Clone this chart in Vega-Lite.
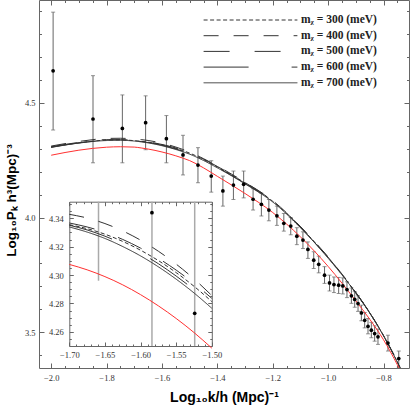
{
  "$schema": "https://vega.github.io/schema/vega-lite/v6.json",
  "width": 370,
  "height": 368,
  "autosize": {"type": "none"},
  "padding": {"left": 39, "top": 0, "right": 1, "bottom": 41},
  "background": "white",
  "config": {
    "view": {"stroke": null},
    "axis": {"grid": false, "labelFont": "Liberation Serif", "labelFontSize": 8.5, "labelColor": "#333", "domainColor": "#666", "tickColor": "#666", "labelFlush": false, "labelOverlap": false}
  },
  "datasets": {
    "obs": [
      {"x": -1.993, "y": 4.640, "lo": 4.382, "hi": 4.896},
      {"x": -1.849, "y": 4.430, "lo": 4.239, "hi": 4.619},
      {"x": -1.743, "y": 4.389, "lo": 4.239, "hi": 4.535},
      {"x": -1.659, "y": 4.414, "lo": 4.296, "hi": 4.531},
      {"x": -1.584, "y": 4.344, "lo": 4.239, "hi": 4.445},
      {"x": -1.524, "y": 4.273, "lo": 4.186, "hi": 4.359},
      {"x": -1.470, "y": 4.229, "lo": 4.152, "hi": 4.305},
      {"x": -1.422, "y": 4.181, "lo": 4.111, "hi": 4.248},
      {"x": -1.380, "y": 4.116, "lo": 4.050, "hi": 4.181},
      {"x": -1.342, "y": 4.142, "lo": 4.079, "hi": 4.203},
      {"x": -1.305, "y": 4.145, "lo": 4.086, "hi": 4.203},
      {"x": -1.271, "y": 4.080, "lo": 4.033, "hi": 4.126},
      {"x": -1.241, "y": 4.058, "lo": 4.007, "hi": 4.106},
      {"x": -1.214, "y": 4.033, "lo": 3.986, "hi": 4.079},
      {"x": -1.185, "y": 4.008, "lo": 3.966, "hi": 4.050},
      {"x": -1.160, "y": 3.975, "lo": 3.941, "hi": 4.018},
      {"x": -1.135, "y": 3.963, "lo": 3.925, "hi": 4.000},
      {"x": -1.113, "y": 3.919, "lo": 3.882, "hi": 3.956},
      {"x": -1.091, "y": 3.902, "lo": 3.865, "hi": 3.938},
      {"x": -1.073, "y": 3.861, "lo": 3.822, "hi": 3.894},
      {"x": -1.052, "y": 3.814, "lo": 3.778, "hi": 3.851},
      {"x": -1.034, "y": 3.796, "lo": 3.759, "hi": 3.832},
      {"x": -1.013, "y": 3.749, "lo": 3.713, "hi": 3.786},
      {"x": -0.995, "y": 3.715, "lo": 3.680, "hi": 3.749},
      {"x": -0.979, "y": 3.708, "lo": 3.673, "hi": 3.741},
      {"x": -0.962, "y": 3.705, "lo": 3.669, "hi": 3.739},
      {"x": -0.947, "y": 3.702, "lo": 3.667, "hi": 3.737},
      {"x": -0.932, "y": 3.686, "lo": 3.651, "hi": 3.720},
      {"x": -0.916, "y": 3.659, "lo": 3.626, "hi": 3.693},
      {"x": -0.904, "y": 3.643, "lo": 3.609, "hi": 3.677},
      {"x": -0.892, "y": 3.625, "lo": 3.591, "hi": 3.659},
      {"x": -0.880, "y": 3.584, "lo": 3.550, "hi": 3.618},
      {"x": -0.868, "y": 3.552, "lo": 3.519, "hi": 3.586},
      {"x": -0.856, "y": 3.526, "lo": 3.493, "hi": 3.560},
      {"x": -0.844, "y": 3.509, "lo": 3.476, "hi": 3.543},
      {"x": -0.832, "y": 3.494, "lo": 3.461, "hi": 3.528},
      {"x": -0.820, "y": 3.480, "lo": 3.447, "hi": 3.514},
      {"x": -0.784, "y": 3.453, "lo": 3.418, "hi": 3.487},
      {"x": -0.745, "y": 3.385, "lo": 3.348, "hi": 3.418}
    ],
    "models": [
      {"m": "300", "x": -2.0, "y": 4.308}, {"m": "300", "x": -1.9, "y": 4.326}, {"m": "300", "x": -1.8, "y": 4.338}, {"m": "300", "x": -1.75, "y": 4.339},
      {"m": "300", "x": -1.7, "y": 4.3355}, {"m": "300", "x": -1.675, "y": 4.3327}, {"m": "300", "x": -1.65, "y": 4.3288}, {"m": "300", "x": -1.625, "y": 4.3237}, {"m": "300", "x": -1.6, "y": 4.3175}, {"m": "300", "x": -1.575, "y": 4.3102}, {"m": "300", "x": -1.55, "y": 4.3017}, {"m": "300", "x": -1.525, "y": 4.2921}, {"m": "300", "x": -1.5, "y": 4.2813},
      {"m": "300", "x": -1.45, "y": 4.253}, {"m": "300", "x": -1.4, "y": 4.221}, {"m": "300", "x": -1.3, "y": 4.151}, {"m": "300", "x": -1.2, "y": 4.071}, {"m": "300", "x": -1.1, "y": 3.959}, {"m": "300", "x": -1.0, "y": 3.825}, {"m": "300", "x": -0.9, "y": 3.672}, {"m": "300", "x": -0.85, "y": 3.585}, {"m": "300", "x": -0.8, "y": 3.485}, {"m": "300", "x": -0.75, "y": 3.370}, {"m": "300", "x": -0.7, "y": 3.240},

      {"m": "400", "x": -2.0, "y": 4.312}, {"m": "400", "x": -1.9, "y": 4.332}, {"m": "400", "x": -1.8, "y": 4.345}, {"m": "400", "x": -1.75, "y": 4.346},
      {"m": "400", "x": -1.7, "y": 4.3428}, {"m": "400", "x": -1.675, "y": 4.3402}, {"m": "400", "x": -1.65, "y": 4.3363}, {"m": "400", "x": -1.625, "y": 4.3311}, {"m": "400", "x": -1.6, "y": 4.3246}, {"m": "400", "x": -1.575, "y": 4.3168}, {"m": "400", "x": -1.55, "y": 4.3077}, {"m": "400", "x": -1.525, "y": 4.2973}, {"m": "400", "x": -1.5, "y": 4.2856},
      {"m": "400", "x": -1.45, "y": 4.257}, {"m": "400", "x": -1.4, "y": 4.225}, {"m": "400", "x": -1.3, "y": 4.154}, {"m": "400", "x": -1.2, "y": 4.074}, {"m": "400", "x": -1.1, "y": 3.961}, {"m": "400", "x": -1.0, "y": 3.828}, {"m": "400", "x": -0.9, "y": 3.674}, {"m": "400", "x": -0.85, "y": 3.586}, {"m": "400", "x": -0.8, "y": 3.486}, {"m": "400", "x": -0.75, "y": 3.371}, {"m": "400", "x": -0.7, "y": 3.241},

      {"m": "500", "x": -2.0, "y": 4.309}, {"m": "500", "x": -1.9, "y": 4.328}, {"m": "500", "x": -1.8, "y": 4.340}, {"m": "500", "x": -1.75, "y": 4.340},
      {"m": "500", "x": -1.7, "y": 4.3367}, {"m": "500", "x": -1.675, "y": 4.3339}, {"m": "500", "x": -1.65, "y": 4.3301}, {"m": "500", "x": -1.625, "y": 4.3251}, {"m": "500", "x": -1.6, "y": 4.3190}, {"m": "500", "x": -1.575, "y": 4.3118}, {"m": "500", "x": -1.55, "y": 4.3035}, {"m": "500", "x": -1.525, "y": 4.2941}, {"m": "500", "x": -1.5, "y": 4.2836},
      {"m": "500", "x": -1.45, "y": 4.255}, {"m": "500", "x": -1.4, "y": 4.223}, {"m": "500", "x": -1.3, "y": 4.153}, {"m": "500", "x": -1.2, "y": 4.072}, {"m": "500", "x": -1.1, "y": 3.960}, {"m": "500", "x": -1.0, "y": 3.827}, {"m": "500", "x": -0.9, "y": 3.673}, {"m": "500", "x": -0.85, "y": 3.586}, {"m": "500", "x": -0.8, "y": 3.486}, {"m": "500", "x": -0.75, "y": 3.371}, {"m": "500", "x": -0.7, "y": 3.241},

      {"m": "600", "x": -2.0, "y": 4.307}, {"m": "600", "x": -1.9, "y": 4.326}, {"m": "600", "x": -1.8, "y": 4.337}, {"m": "600", "x": -1.75, "y": 4.338},
      {"m": "600", "x": -1.7, "y": 4.3351}, {"m": "600", "x": -1.675, "y": 4.3318}, {"m": "600", "x": -1.65, "y": 4.3274}, {"m": "600", "x": -1.625, "y": 4.3220}, {"m": "600", "x": -1.6, "y": 4.3155}, {"m": "600", "x": -1.575, "y": 4.3080}, {"m": "600", "x": -1.55, "y": 4.2993}, {"m": "600", "x": -1.525, "y": 4.2897}, {"m": "600", "x": -1.5, "y": 4.2790},
      {"m": "600", "x": -1.45, "y": 4.251}, {"m": "600", "x": -1.4, "y": 4.219}, {"m": "600", "x": -1.3, "y": 4.149}, {"m": "600", "x": -1.2, "y": 4.069}, {"m": "600", "x": -1.1, "y": 3.957}, {"m": "600", "x": -1.0, "y": 3.824}, {"m": "600", "x": -0.9, "y": 3.671}, {"m": "600", "x": -0.85, "y": 3.585}, {"m": "600", "x": -0.8, "y": 3.485}, {"m": "600", "x": -0.75, "y": 3.370}, {"m": "600", "x": -0.7, "y": 3.240},

      {"m": "700", "x": -2.0, "y": 4.306}, {"m": "700", "x": -1.9, "y": 4.325}, {"m": "700", "x": -1.8, "y": 4.336}, {"m": "700", "x": -1.75, "y": 4.337},
      {"m": "700", "x": -1.7, "y": 4.3339}, {"m": "700", "x": -1.675, "y": 4.3303}, {"m": "700", "x": -1.65, "y": 4.3258}, {"m": "700", "x": -1.625, "y": 4.3201}, {"m": "700", "x": -1.6, "y": 4.3135}, {"m": "700", "x": -1.575, "y": 4.3058}, {"m": "700", "x": -1.55, "y": 4.2971}, {"m": "700", "x": -1.525, "y": 4.2874}, {"m": "700", "x": -1.5, "y": 4.2766},
      {"m": "700", "x": -1.45, "y": 4.249}, {"m": "700", "x": -1.4, "y": 4.217}, {"m": "700", "x": -1.3, "y": 4.147}, {"m": "700", "x": -1.2, "y": 4.068}, {"m": "700", "x": -1.1, "y": 3.956}, {"m": "700", "x": -1.0, "y": 3.823}, {"m": "700", "x": -0.9, "y": 3.671}, {"m": "700", "x": -0.85, "y": 3.584}, {"m": "700", "x": -0.8, "y": 3.484}, {"m": "700", "x": -0.75, "y": 3.369}, {"m": "700", "x": -0.7, "y": 3.239}
    ],
    "lcdm": [
      {"x": -2.0, "y": 4.272}, {"x": -1.9, "y": 4.294}, {"x": -1.8, "y": 4.307}, {"x": -1.75, "y": 4.309},
      {"x": -1.7, "y": 4.3075}, {"x": -1.675, "y": 4.3037}, {"x": -1.65, "y": 4.2989}, {"x": -1.625, "y": 4.2931}, {"x": -1.6, "y": 4.2862}, {"x": -1.575, "y": 4.2783}, {"x": -1.55, "y": 4.2694}, {"x": -1.525, "y": 4.2595}, {"x": -1.5, "y": 4.2485},
      {"x": -1.45, "y": 4.217}, {"x": -1.4, "y": 4.180}, {"x": -1.3, "y": 4.105}, {"x": -1.2, "y": 4.022}, {"x": -1.1, "y": 3.916}, {"x": -1.0, "y": 3.787}, {"x": -0.9, "y": 3.637}, {"x": -0.85, "y": 3.557}, {"x": -0.8, "y": 3.467}, {"x": -0.75, "y": 3.358}, {"x": -0.7, "y": 3.232}
    ]
  },
  "resolve": {"scale": {"x": "independent", "y": "independent"}, "axis": {"x": "independent", "y": "independent"}},
  "layer": [
    {
      "data": {"name": "obs"},
      "mark": {"type": "rule", "color": "#666", "strokeWidth": 1, "clip": true},
      "encoding": {
        "x": {"field": "x", "type": "quantitative", "scale": {"domain": [-2.044, -0.708], "nice": false, "zero": false},
          "axis": {"orient": "bottom", "values": [-2, -1.95, -1.9, -1.85, -1.8, -1.75, -1.7, -1.65, -1.6, -1.55, -1.5, -1.45, -1.4, -1.35, -1.3, -1.25, -1.2, -1.15, -1.1, -1.05, -1, -0.95, -0.9, -0.85, -0.8, -0.75],
            "labelExpr": "abs(datum.value*5-round(datum.value*5))<0.01 ? format(datum.value,'.1f') : ''",
            "tickSize": {"condition": {"test": "abs(datum.value*5-round(datum.value*5))<0.01", "value": -5}, "value": -2.5},
            "labelPadding": 10,
            "title": "Log₁₀k/h (Mpc)⁻¹", "titleFont": "Liberation Sans", "titleFontSize": 14, "titleFontWeight": "bold", "titleColor": "#000", "titlePadding": 6}},
        "y": {"field": "lo", "type": "quantitative", "scale": {"domain": [3.344, 4.949], "nice": false, "zero": false},
          "axis": {"orient": "left", "values": [3.4, 3.5, 3.6, 3.7, 3.8, 3.9, 4.0, 4.1, 4.2, 4.3, 4.4, 4.5, 4.6, 4.7, 4.8, 4.9],
            "labelExpr": "abs(datum.value*2-round(datum.value*2))<0.01 ? format(datum.value,'.1f') : ''",
            "tickSize": {"condition": {"test": "abs(datum.value*2-round(datum.value*2))<0.01", "value": -5}, "value": -2.5},
            "labelPadding": 9,
            "title": "Log₁₀Pₖ h³(Mpc)⁻³", "titleFont": "Liberation Sans", "titleFontSize": 13.5, "titleFontWeight": "bold", "titleColor": "#000", "titlePadding": 6, "titleY": 200}},
        "y2": {"field": "hi"}
      }
    },
    {
      "data": {"name": "obs"},
      "mark": {"type": "tick", "orient": "horizontal", "size": 4, "thickness": 1, "color": "#666", "clip": true},
      "encoding": {
        "x": {"field": "x", "type": "quantitative", "scale": {"domain": [-2.044, -0.708], "nice": false, "zero": false},
          "axis": {"orient": "top", "values": [-2, -1.95, -1.9, -1.85, -1.8, -1.75, -1.7, -1.65, -1.6, -1.55, -1.5, -1.45, -1.4, -1.35, -1.3, -1.25, -1.2, -1.15, -1.1, -1.05, -1, -0.95, -0.9, -0.85, -0.8, -0.75],
            "labels": false, "title": null,
            "tickSize": {"condition": {"test": "abs(datum.value*5-round(datum.value*5))<0.01", "value": -5}, "value": -2.5}}},
        "y": {"field": "hi", "type": "quantitative", "scale": {"domain": [3.344, 4.949], "nice": false, "zero": false},
          "axis": {"orient": "right", "values": [3.4, 3.5, 3.6, 3.7, 3.8, 3.9, 4.0, 4.1, 4.2, 4.3, 4.4, 4.5, 4.6, 4.7, 4.8, 4.9],
            "labels": false, "title": null,
            "tickSize": {"condition": {"test": "abs(datum.value*2-round(datum.value*2))<0.01", "value": -5}, "value": -2.5}}}
      }
    },
    {
      "data": {"name": "obs"},
      "mark": {"type": "tick", "orient": "horizontal", "size": 4, "thickness": 1, "color": "#666", "clip": true},
      "encoding": {
        "x": {"field": "x", "type": "quantitative", "scale": {"domain": [-2.044, -0.708], "nice": false, "zero": false}, "axis": null},
        "y": {"field": "lo", "type": "quantitative", "scale": {"domain": [3.344, 4.949], "nice": false, "zero": false}, "axis": null}
      }
    },
    {
      "data": {"name": "models"},
      "mark": {"type": "line", "color": "#333", "strokeWidth": 1, "clip": true, "interpolate": "monotone"},
      "encoding": {
        "x": {"field": "x", "type": "quantitative", "scale": {"domain": [-2.044, -0.708], "nice": false, "zero": false}, "axis": null},
        "y": {"field": "y", "type": "quantitative", "scale": {"domain": [3.344, 4.949], "nice": false, "zero": false}, "axis": null},
        "strokeDash": {"field": "m", "type": "nominal",
          "scale": {"domain": ["300", "400", "500", "600", "700"], "range": [[4, 2.5], [15, 15], [26, 25], [45, 43], [1, 0]]},
          "legend": {"orient": "none", "legendX": 164, "legendY": 13, "title": null, "symbolType": "stroke", "symbolSize": 8800, "symbolStrokeColor": "#444", "symbolStrokeWidth": 1,
            "clipHeight": 14, "rowPadding": 1.7,
            "labelFont": "Liberation Serif", "labelFontWeight": "bold", "labelFontSize": 11.5, "labelColor": "#222", "labelOffset": 3,
            "labelExpr": "'mᵪ = ' + datum.label + ' (meV)'"}}
      }
    },
    {
      "data": {"name": "lcdm"},
      "mark": {"type": "line", "color": "#ff3030", "strokeWidth": 1, "clip": true, "interpolate": "monotone"},
      "encoding": {
        "x": {"field": "x", "type": "quantitative", "scale": {"domain": [-2.044, -0.708], "nice": false, "zero": false}, "axis": null},
        "y": {"field": "y", "type": "quantitative", "scale": {"domain": [3.344, 4.949], "nice": false, "zero": false}, "axis": null}
      }
    },
    {
      "data": {"name": "obs"},
      "mark": {"type": "point", "filled": true, "color": "#000", "size": 14, "opacity": 1, "clip": true},
      "encoding": {
        "x": {"field": "x", "type": "quantitative", "scale": {"domain": [-2.044, -0.708], "nice": false, "zero": false}, "axis": null},
        "y": {"field": "y", "type": "quantitative", "scale": {"domain": [3.344, 4.949], "nice": false, "zero": false}, "axis": null}
      }
    },
    {
      "mark": {"type": "rect", "fill": "white"},
      "encoding": {
        "x": {"datum": -1.7, "type": "quantitative", "scale": {"domain": [-1.7, -1.5], "range": [30.3, 172.8], "nice": false, "zero": false},
          "axis": {"orient": "bottom", "offset": -22, "values": [-1.7, -1.69, -1.68, -1.67, -1.66, -1.65, -1.64, -1.63, -1.62, -1.61, -1.6, -1.59, -1.58, -1.57, -1.56, -1.55, -1.54, -1.53, -1.52, -1.51, -1.5],
            "labelExpr": "abs(datum.value*20-round(datum.value*20))<0.01 ? format(datum.value,'.2f') : ''",
            "tickSize": {"condition": {"test": "abs(datum.value*20-round(datum.value*20))<0.01", "value": -4}, "value": -2},
            "labelPadding": 8, "title": null}},
        "x2": {"datum": -1.5},
        "y": {"datum": 4.25, "type": "quantitative", "scale": {"domain": [4.25, 4.3517], "range": [346, 201.7], "nice": false, "zero": false},
          "axis": {"orient": "left", "offset": -30.3, "values": [4.25, 4.255, 4.26, 4.265, 4.27, 4.275, 4.28, 4.285, 4.29, 4.295, 4.3, 4.305, 4.31, 4.315, 4.32, 4.325, 4.33, 4.335, 4.34, 4.345, 4.35],
            "labelExpr": "abs(datum.value*50-round(datum.value*50))<0.01 ? format(datum.value,'.2f') : ''",
            "tickSize": {"condition": {"test": "abs(datum.value*50-round(datum.value*50))<0.01", "value": -4}, "value": -2},
            "labelPadding": 10, "title": null}},
        "y2": {"datum": 4.3517}
      }
    },
    {
      "data": {"name": "obs"},
      "transform": [{"filter": "datum.x >= -1.7001 && datum.x <= -1.4999"}],
      "mark": {"type": "rule", "color": "#aaa", "strokeWidth": 1.5},
      "encoding": {
        "x": {"field": "x", "type": "quantitative", "scale": {"domain": [-1.7, -1.5], "range": [30.3, 172.8], "nice": false, "zero": false},
          "axis": {"orient": "top", "offset": -201.7, "values": [-1.7, -1.69, -1.68, -1.67, -1.66, -1.65, -1.64, -1.63, -1.62, -1.61, -1.6, -1.59, -1.58, -1.57, -1.56, -1.55, -1.54, -1.53, -1.52, -1.51, -1.5],
            "labels": false, "title": null,
            "tickSize": {"condition": {"test": "abs(datum.value*20-round(datum.value*20))<0.01", "value": -4}, "value": -2}}},
        "y": {"field": "lo", "type": "quantitative", "scale": {"domain": [4.25, 4.3517], "range": [346, 201.7], "nice": false, "zero": false, "clamp": true},
          "axis": {"orient": "right", "offset": -197.2, "values": [4.25, 4.255, 4.26, 4.265, 4.27, 4.275, 4.28, 4.285, 4.29, 4.295, 4.3, 4.305, 4.31, 4.315, 4.32, 4.325, 4.33, 4.335, 4.34, 4.345, 4.35],
            "labels": false, "title": null,
            "tickSize": {"condition": {"test": "abs(datum.value*50-round(datum.value*50))<0.01", "value": -4}, "value": -2}}},
        "y2": {"field": "hi"}
      }
    },
    {
      "data": {"name": "models"},
      "transform": [{"filter": "datum.x >= -1.7001 && datum.x <= -1.4999"}],
      "mark": {"type": "line", "color": "#333", "strokeWidth": 1, "interpolate": "monotone"},
      "encoding": {
        "x": {"field": "x", "type": "quantitative", "scale": {"domain": [-1.7, -1.5], "range": [30.3, 172.8], "nice": false, "zero": false}, "axis": null},
        "y": {"field": "y", "type": "quantitative", "scale": {"domain": [4.25, 4.3517], "range": [346, 201.7], "nice": false, "zero": false}, "axis": null},
        "strokeDash": {"field": "m", "type": "nominal"}
      }
    },
    {
      "data": {"name": "lcdm"},
      "transform": [{"filter": "datum.x >= -1.7001 && datum.x <= -1.4999"}],
      "mark": {"type": "line", "color": "#ff3030", "strokeWidth": 1, "interpolate": "monotone"},
      "encoding": {
        "x": {"field": "x", "type": "quantitative", "scale": {"domain": [-1.7, -1.5], "range": [30.3, 172.8], "nice": false, "zero": false}, "axis": null},
        "y": {"field": "y", "type": "quantitative", "scale": {"domain": [4.25, 4.3517], "range": [346, 201.7], "nice": false, "zero": false}, "axis": null}
      }
    },
    {
      "data": {"name": "obs"},
      "transform": [{"filter": "datum.x >= -1.7001 && datum.x <= -1.4999 && datum.y >= 4.25 && datum.y <= 4.3517"}],
      "mark": {"type": "point", "filled": true, "color": "#000", "size": 14, "opacity": 1},
      "encoding": {
        "x": {"field": "x", "type": "quantitative", "scale": {"domain": [-1.7, -1.5], "range": [30.3, 172.8], "nice": false, "zero": false}, "axis": null},
        "y": {"field": "y", "type": "quantitative", "scale": {"domain": [4.25, 4.3517], "range": [346, 201.7], "nice": false, "zero": false}, "axis": null}
      }
    }
  ]
}
